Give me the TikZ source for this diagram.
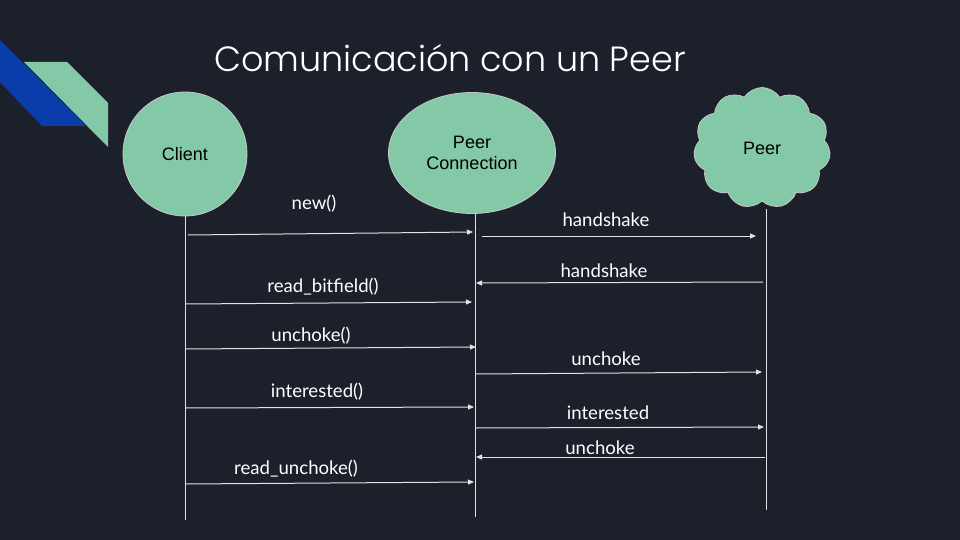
\documentclass[tikz,border=0pt]{standalone}
\usepackage{fontspec}
\setmainfont{Lato}
\newfontfamily\titlefont{Poppins Light}
\newfontfamily\nodefont{Liberation Sans}
\usetikzlibrary{arrows.meta,shapes.geometric,shapes.symbols}

\definecolor{bg}{HTML}{1C202B}
\definecolor{mint}{HTML}{83C9A7}
\definecolor{royal}{HTML}{0A3DAA}
\definecolor{wire}{HTML}{E2E2E2}
\definecolor{rim}{HTML}{C8C8C8}

\tikzset{
  actor/.style={fill=mint, draw=rim, line width=0.8pt, text=black,
    font=\nodefont\fontsize{18}{21}\selectfont, align=center, inner sep=0pt},
  lifeline/.style={draw=wire, line width=1pt},
  msg/.style={draw=wire, line width=1pt, -{Triangle[length=6pt,width=5pt]}},
  msglabel/.style={text=white, font=\fontsize{18.6}{21}\selectfont, inner sep=0pt, anchor=base}
}

\begin{document}
\begin{tikzpicture}[x=1pt,y=-1pt]
  % canvas
  \fill[bg] (0,0) rectangle (960,540);
  \useasboundingbox (0,0) rectangle (960,540);

  % corner ribbons
  \fill[royal] (0,40) -- (86,126) -- (42,126) -- (0,82) -- cycle;
  \fill[mint] (24,62) -- (67,62) -- (108,103) -- (108,147) -- cycle;

  % title
  \node[text=white, font=\titlefont\fontsize{35}{40}\selectfont, anchor=base, inner sep=0pt]
    (title) at (450,72) {Comunicación con un Peer};

  % participants
  \node[actor, circle, minimum size=124pt] (client) at (185,154) {Client};
  \node[actor, ellipse, minimum width=167pt, minimum height=121pt] (conn) at (472,153) {Peer\\Connection};
  \node[actor, cloud, cloud puffs=11, cloud puff arc=115, aspect=1.1,
        minimum width=137pt, minimum height=121pt] (peer) at (762,148) {Peer};

  % lifelines
  \coordinate (clientEnd) at (185,520);
  \coordinate (connEnd) at (475,517);
  \coordinate (peerEnd) at (766,510);
  \coordinate (clientTop) at (185,216);
  \coordinate (connTop) at (475,214);
  \coordinate (peerTop) at (766,209);
  \draw[lifeline] (clientTop) -- (clientEnd);
  \draw[lifeline] (connTop) -- (connEnd);
  \draw[lifeline] (peerTop) -- (peerEnd);

  % message end points
  \coordinate (a1) at (188,235);  \coordinate (b1) at (473,232);
  \coordinate (a2) at (482,236);  \coordinate (b2) at (756,236);
  \coordinate (a3) at (763,282);  \coordinate (b3) at (476,283);
  \coordinate (a4) at (185,304);  \coordinate (b4) at (472,302);
  \coordinate (a5) at (185,349);  \coordinate (b5) at (476,347);
  \coordinate (a6) at (476,374);  \coordinate (b6) at (762,372);
  \coordinate (a7) at (185,408);  \coordinate (b7) at (474,407);
  \coordinate (a8) at (476,428);  \coordinate (b8) at (764,427);
  \coordinate (a9) at (765,457);  \coordinate (b9) at (476,457);
  \coordinate (a10) at (185,484); \coordinate (b10) at (474,482);

  % messages
  \draw[msg] (a1) -- (b1);
  \draw[msg] (a2) -- (b2);
  \draw[msg] (a3) -- (b3);
  \draw[msg] (a4) -- (b4);
  \draw[msg] (a5) -- (b5);
  \draw[msg] (a6) -- (b6);
  \draw[msg] (a7) -- (b7);
  \draw[msg] (a8) -- (b8);
  \draw[msg] (a9) -- (b9);
  \draw[msg] (a10) -- (b10);

  % message labels
  \node[msglabel] (l1) at (314,209) {new()};
  \node[msglabel] (l2) at (606,226) {handshake};
  \node[msglabel] (l3) at (604,277) {handshake};
  \node[msglabel] (l4) at (323,292) {read\_bitfield()};
  \node[msglabel] (l5) at (311,341) {unchoke()};
  \node[msglabel] (l6) at (606,365) {unchoke};
  \node[msglabel] (l7) at (317,397) {interested()};
  \node[msglabel] (l8) at (608,419) {interested};
  \node[msglabel] (l9) at (600,454) {unchoke};
  \node[msglabel] (l10) at (296,474) {read\_unchoke()};
\end{tikzpicture}
\end{document}
